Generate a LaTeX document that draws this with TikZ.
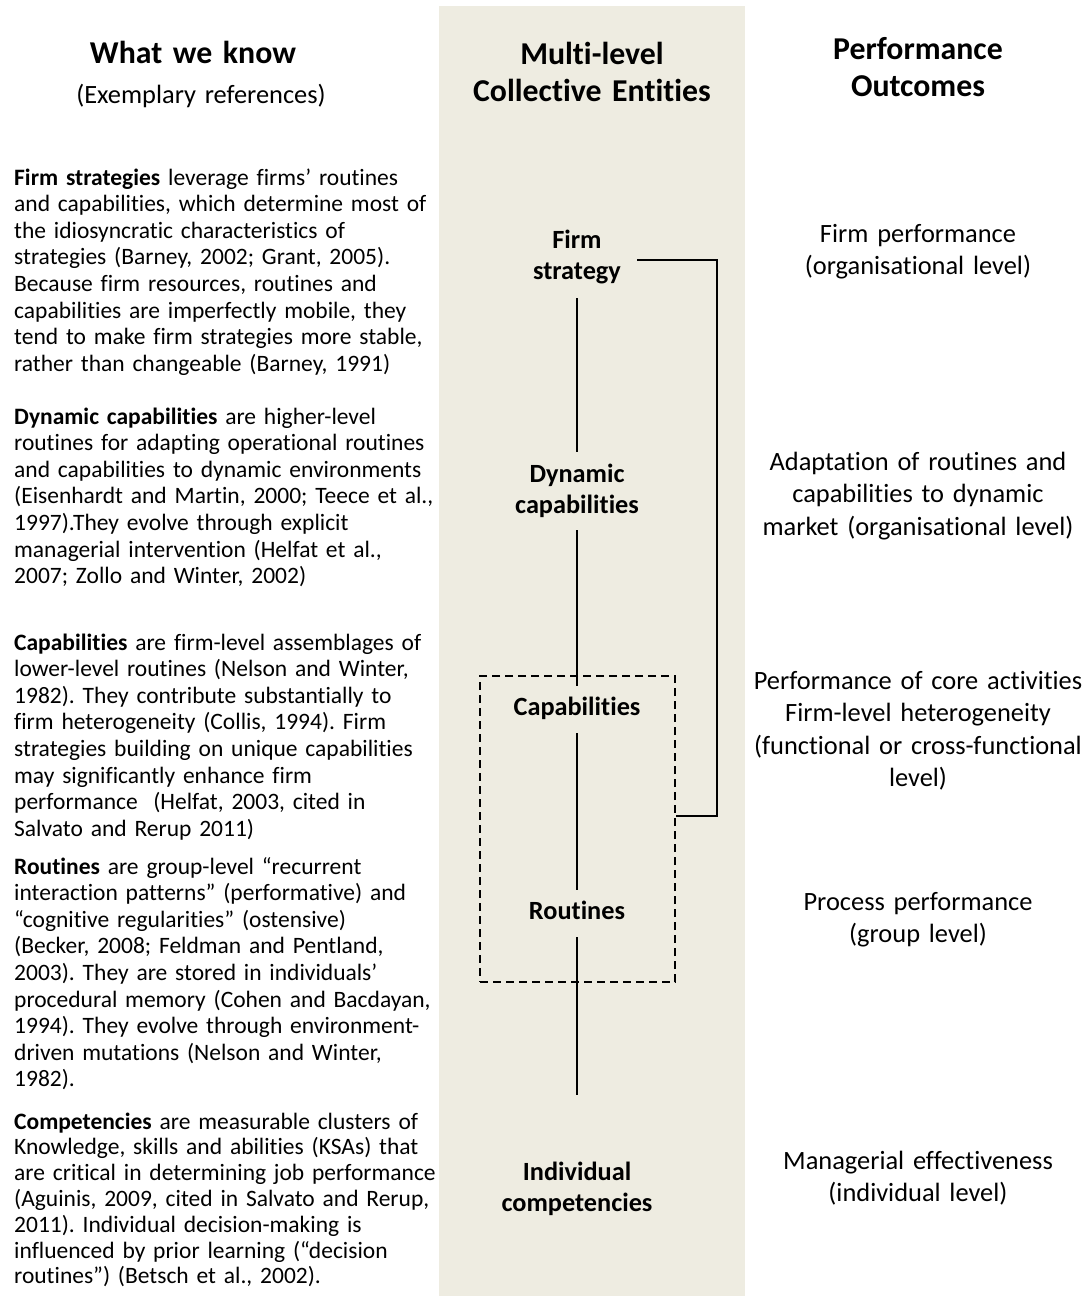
\documentclass[tikz,border=0pt]{standalone}
\usepackage{fontspec}
\setmainfont{Carlito}[Ligatures={NoCommon,NoContextual}]
\frenchspacing
\definecolor{panelbg}{HTML}{EEECE1}
\begin{document}
\begin{tikzpicture}[x=1pt,y=-1pt,
  head/.style={font=\fontsize{31.8}{37}\selectfont\bfseries, text width=300pt, align=center, inner sep=0pt, anchor=base},
  subhead/.style={font=\fontsize{26.4}{32.5}\selectfont, text width=300pt, align=center, inner sep=0pt, anchor=base},
  body/.style={font=\fontsize{23.5}{26.6}\selectfont, text width=425pt, align=left, inner sep=0pt, anchor=base west},
  outcome/.style={font=\fontsize{26.4}{32.5}\selectfont, text width=340pt, align=center, inner sep=0pt, anchor=base},
  level/.style={font=\fontsize{26.3}{31}\selectfont\bfseries, align=center, inner xsep=0pt, inner ysep=0pt},
  conn/.style={line width=1.6pt},
  groupbox/.style={draw, line width=1.4pt, dash pattern=on 8pt off 5pt, inner sep=0pt}
]
\useasboundingbox (0,0) rectangle (1091,1296);

% shaded middle column
\fill[panelbg] (439,6) rectangle (745,1296);

% column headings
\node[head] (hknow) at (193,63) {What we know};
\node[subhead] (href) at (201,103) {(Exemplary references)};
\node[head] (hlevels) at (592,64) {Multi-level\\Collective Entities};
\node[head] (hout) at (918,59) {Performance\\Outcomes};

% left column: literature
\node[body] (pfs) at (14,185) {\textbf{Firm strategies} leverage firms’ routines\\
and capabilities, which determine most of\\
the idiosyncratic characteristics of\\
strategies (Barney, 2002; Grant, 2005).\\
Because firm resources, routines and\\
capabilities are imperfectly mobile, they\\
tend to make firm strategies more stable,\\
rather than changeable (Barney, 1991)};

\node[body] (pdc) at (14,424) {\textbf{Dynamic capabilities} are higher-level\\
routines for adapting operational routines\\
and capabilities to dynamic environments\\
(Eisenhardt and Martin, 2000; Teece et al.,\\
1997).They evolve through explicit\\
managerial intervention (Helfat et al.,\\
2007; Zollo and Winter, 2002)};

\node[body] (pcap) at (14,650) {\textbf{Capabilities} are firm-level assemblages of\\
lower-level routines (Nelson and Winter,\\
1982). They contribute substantially to\\
firm heterogeneity (Collis, 1994). Firm\\
strategies building on unique capabilities\\
may significantly enhance firm\\
performance~~(Helfat, 2003, cited in\\
Salvato and Rerup 2011)};

\node[body] (prt) at (14,874) {\textbf{Routines} are group-level “recurrent\\
interaction patterns” (performative) and\\
“cognitive regularities” (ostensive)\\
(Becker, 2008; Feldman and Pentland,\\
2003). They are stored in individuals’\\
procedural memory (Cohen and Bacdayan,\\
1994). They evolve through environment-\\
driven mutations (Nelson and Winter,\\
1982).};

\node[body, font=\fontsize{23.5}{25.8}\selectfont] (pic) at (14,1129) {\textbf{Competencies} are measurable clusters of\\
Knowledge, skills and abilities (KSAs) that\\
are critical in determining job performance\\
(Aguinis, 2009, cited in Salvato and Rerup,\\
2011). Individual decision-making is\\
influenced by prior learning (“decision\\
routines”) (Betsch et al., 2002).};

% middle column: levels
\node[level, text width=120pt, minimum height=82pt] (fs) at (577,257) {Firm\\strategy};
\node[level, text width=160pt, minimum height=78pt] (dc) at (577,491) {Dynamic\\capabilities};
\node[level, text depth=5.5pt, minimum height=47pt] (cap) at (577,709.5) {Capabilities};
\node[level, text depth=5.5pt, minimum height=47pt] (rt) at (577,913.5) {Routines};
\node[level, text width=180pt, minimum height=188pt] (ic) at (577,1189) {Individual\\competencies};

% dashed grouping of capabilities and routines
\node[groupbox, minimum width=195pt, minimum height=306pt] (grp) at (577.5,829) {};

% vertical chain of levels
\draw[conn] (fs.south) -- (dc.north);
\draw[conn] (dc.south) -- (cap.north);
\draw[conn] (cap.south) -- (rt.north);
\draw[conn] (rt.south) -- (ic.north);

% bracket from firm strategy to the capabilities/routines group
\coordinate (brkcorner) at (717,816);
\coordinate (brkend) at (grp.east |- brkcorner);
\draw[conn] ([yshift=-3pt]fs.east) -| (brkcorner) -- (brkend);

% right column: outcomes
\node[outcome] (ofs) at (918,242) {Firm performance\\(organisational level)};
\node[outcome] (odc) at (918,470) {Adaptation of routines and\\capabilities to dynamic\\market (organisational level)};
\node[outcome] (ocap) at (918,689) {Performance of core activities\\Firm-level heterogeneity\\(functional or cross-functional\\level)};
\node[outcome] (ort) at (918,910) {Process performance\\(group level)};
\node[outcome] (oic) at (918,1169) {Managerial effectiveness\\(individual level)};
\end{tikzpicture}
\end{document}
